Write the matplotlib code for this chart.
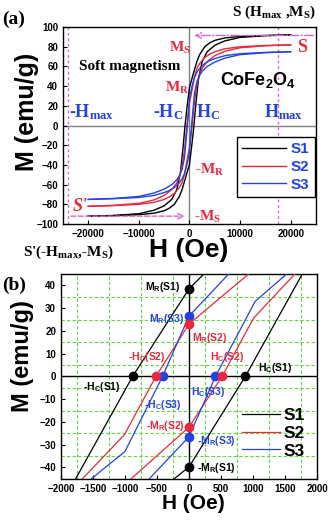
import numpy as np
import matplotlib.pyplot as plt
from matplotlib.ticker import MultipleLocator

plt.rcParams['font.family'] = 'Liberation Sans'
plt.rcParams['font.weight'] = 'bold'
plt.rcParams['mathtext.default'] = 'regular'

RED = '#e8283c'
BLUE = '#2343e0'
PINK = '#d966d6'
GREEN = '#5fd83a'
SERIF = 'Liberation Serif'

samples = ['S1', 'S2', 'S3']
colors = ['black', RED, BLUE]

# ---- (a) full loops, +20 kOe -> -20 kOe (down) and back (up)
h1_dn = [20000, 15000, 10000, 7000, 5000, 4000, 3000, 2000, 1500, 1000, 500, 0, -500, -880, -1300, -1800, -2500, -3500, -5000, -7000, -10000, -15000, -20000]
m1_dn = [92, 91.5, 90.5, 89, 86.5, 84, 80, 72, 65.5, 57, 48, 38.5, 18, 0, -24, -48, -65, -75, -81.5, -86, -89.5, -91.3, -92]
h1_up = [-20000, -15000, -10000, -7000, -5000, -4000, -3000, -2000, -1500, -1000, -500, 0, 500, 880, 1300, 1800, 2500, 3500, 5000, 7000, 10000, 15000, 20000]
m1_up = [-92, -91.5, -90.5, -89, -86.5, -84, -80, -72, -65.5, -57, -48, -39.8, -18, 0, 24, 48, 65, 75, 81.5, 86, 89.5, 91.3, 92]

h2_dn = [20000, 15000, 10000, 7000, 5000, 4000, 3000, 2000, 1500, 1000, 500, 0, -517, -1000, -1500, -2000, -2500, -3500, -5000, -7000, -10000, -15000, -20000]
m2_dn = [82, 81.3, 80, 78, 75, 72.5, 69, 63, 58.5, 50, 36, 23, 0, -25.5, -42, -52, -58, -65, -71, -75.5, -79, -81, -82]
h2_up = [-20000, -15000, -10000, -7000, -5000, -4000, -3000, -2000, -1500, -1000, -500, 0, 517, 1000, 1500, 2000, 2500, 3500, 5000, 7000, 10000, 15000, 20000]
m2_up = [-82, -81.3, -80, -78, -75, -72.5, -69, -63, -58.5, -50, -36, -22.3, 0, 25.5, 42, 52, 58, 65, 71, 75.5, 79, 81, 82]

h3_dn = [20000, 15000, 10000, 7000, 5000, 4000, 3000, 2000, 1500, 1000, 500, 0, -413, -1000, -1500, -2000, -2500, -3500, -5000, -7000, -10000, -15000, -20000]
m3_dn = [75, 74.3, 73, 71, 68, 66, 63, 58, 54.5, 49, 40, 26.5, 0, -33, -45, -51, -55, -60, -64.5, -68.5, -72, -74, -75]
h3_up = [-20000, -15000, -10000, -7000, -5000, -4000, -3000, -2000, -1500, -1000, -500, 0, 413, 1000, 1500, 2000, 2500, 3500, 5000, 7000, 10000, 15000, 20000]
m3_up = [-75, -74.3, -73, -71, -68, -66, -63, -58, -54.5, -49, -40, -26.5, 0, 33, 45, 51, 55, 60, 64.5, 68.5, 72, 74, 75]

hmax_neg, hmax_pos = -24000, 17500
ms_top, ms_bot = 91.5, -92

# ---- (b) zoom around origin
hb1_dn = [600, 232, 0, -880, -1770, -2100]
mb1_dn = [54, 45, 38.5, 0, -45, -62]
hb1_up = [-600, -232, 0, 880, 1770, 2100]
mb1_up = [-54, -45, -39.8, 0, 45, 62]

hb2_dn = [1400, 930, 0, -517, -1008, -1664, -2000]
mb2_dn = [56, 45, 23, 0, -25.6, -45, -55]
hb2_up = [-1400, -904, 0, 517, 1008, 1654, 2000]
mb2_up = [-56, -45, -22.3, 0, 25.6, 45, 55]

hb3_dn = [1000, 620, 0, -413, -1000, -1525, -2000]
mb3_dn = [57, 45, 26.5, 0, -33, -45, -56]
hb3_up = [-1000, -620, 0, 413, 1034, 1525, 2000]
mb3_up = [-57, -45, -26.5, 0, 33, 45, 56]

# remanence / coercivity points (S1, S2, S3)
mr_pos = [38.5, 23, 26.5]
mr_neg = [-39.8, -22.3, -26.5]
hc_pos = [880, 517, 413]
hc_neg = [-880, -517, -413]

fig = plt.figure(figsize=(3.33, 5.21), dpi=100)

# ================= (a)
axa = fig.add_axes([0.189, 0.570, 0.760, 0.378])
axa.axhline(0, color='#808080', lw=1, zorder=1)
axa.axvline(0, color='#808080', lw=1, zorder=1)
axa.axvline(hmax_neg, color=PINK, lw=1, ls=(0, (2, 2)), zorder=1)
axa.axvline(hmax_pos, color=PINK, lw=1, ls=(0, (2, 2)), zorder=1)
axa.annotate('', xy=(400, ms_top), xytext=(25000, ms_top),
             arrowprops=dict(arrowstyle='->', color=PINK, lw=1, ls='-.'))
axa.annotate('', xy=(-400, ms_bot), xytext=(hmax_neg, ms_bot),
             arrowprops=dict(arrowstyle='->', color=PINK, lw=1, ls='--'))

loops_a = [(h1_dn, m1_dn, h1_up, m1_up), (h2_dn, m2_dn, h2_up, m2_up), (h3_dn, m3_dn, h3_up, m3_up)]
for (hd, md, hu, mu), c, s in zip(loops_a, colors, samples):
    axa.plot(hd, md, color=c, lw=1, label=s)
    axa.plot(hu, mu, color=c, lw=1)

axa.set_xlim(-25000, 25000)
axa.set_ylim(-100, 100)
axa.set_xticks([-20000, -10000, 0, 10000, 20000])
axa.yaxis.set_major_locator(MultipleLocator(20))
axa.tick_params(direction='in', labelsize=7, length=3)
for sp in axa.spines.values():
    sp.set_linewidth(1)

leg = axa.legend(loc='lower right', bbox_to_anchor=(0.996, 0.137), fontsize=11,
                 handlelength=2.9, labelspacing=0.25, borderpad=0.35, handletextpad=0.3,
                 borderaxespad=0, fancybox=False, edgecolor='black', framealpha=1)
leg.get_frame().set_linewidth(1)
for t in leg.get_texts():
    t.set_color(BLUE)

sfont = dict(family=SERIF, fontweight='bold', ha='center', va='center')
axa.text(-1900, 79, 'M$_S$', color=RED, fontsize=11, **sfont)
axa.text(22200, 79, 'S', color=RED, fontsize=13, **sfont)
axa.text(-11750, 59.5, 'Soft magnetism', color='black', fontsize=11, **sfont)
axa.text(13500, 46, 'CoFe$_2$O$_4$', color='black', fontsize=13, ha='center', va='center')
axa.text(-2470, 38, 'M$_R$', color=RED, fontsize=11, **sfont)
axa.text(-19300, 14, '-H$_{max}$', color=BLUE, fontsize=13, **sfont)
axa.text(-4250, 14, '-H$_C$', color=BLUE, fontsize=13, **sfont)
axa.text(3650, 14, 'H$_C$', color=BLUE, fontsize=13, **sfont)
axa.text(18500, 14, 'H$_{max}$', color=BLUE, fontsize=13, **sfont)
axa.text(4050, -45, '-M$_R$', color=RED, fontsize=11, **sfont)
axa.text(3650, -93, '-M$_S$', color=RED, fontsize=11, **sfont)
axa.text(-21600, -82.7, "S'", color=RED, fontsize=13, style='italic', **sfont)

fig.text(0.006, 0.962, '(a)', family=SERIF, fontsize=14, fontweight='bold', va='center')
fig.text(0.823, 0.977, 'S (H$_{max}$ ,M$_S$)', family=SERIF, fontsize=11, fontweight='bold', ha='center', va='center')
fig.text(0.204, 0.516, "S'(-H$_{max}$,-M$_S$)", family=SERIF, fontsize=11, fontweight='bold', ha='center', va='center')
fig.text(0.568, 0.520, 'H (Oe)', fontsize=19, ha='center', va='center')
fig.text(0.081, 0.785, 'M (emu/g)', fontsize=18, rotation=90, ha='center', va='center')

# ================= (b)
axb = fig.add_axes([0.183, 0.081, 0.769, 0.393])
axb.axhline(0, color='black', lw=1, zorder=2)
axb.axvline(0, color='black', lw=1, zorder=2)

loops_b = [(hb1_dn, mb1_dn, hb1_up, mb1_up), (hb2_dn, mb2_dn, hb2_up, mb2_up), (hb3_dn, mb3_dn, hb3_up, mb3_up)]
for (hd, md, hu, mu), c, s in zip(loops_b, colors, samples):
    axb.plot(hd, md, color=c, lw=0.9, label=s, zorder=3)
    axb.plot(hu, mu, color=c, lw=0.9, zorder=3)

# dots: blue first, then red, black
for i in [2, 1, 0]:
    axb.plot([0, 0], [mr_pos[i], mr_neg[i]], 'o', color=colors[i], ms=6, zorder=5)
    axb.plot([hc_pos[i], hc_neg[i]], [0, 0], 'o', color=colors[i], ms=6, zorder=5)

axb.set_xlim(-2000, 2000)
axb.set_ylim(-45, 45)
axb.xaxis.set_major_locator(MultipleLocator(500))
axb.xaxis.set_minor_locator(MultipleLocator(250))
axb.yaxis.set_major_locator(MultipleLocator(10))
axb.yaxis.set_minor_locator(MultipleLocator(5))
axb.grid(which='minor', color=GREEN, ls=(0, (3, 2)), lw=0.8)
axb.tick_params(which='both', direction='in', labelsize=7)
axb.tick_params(which='major', length=3)
axb.tick_params(which='minor', length=0)
for sp in axb.spines.values():
    sp.set_linewidth(1)

legb = axb.legend(loc='lower left', bbox_to_anchor=(0.68, 0.065), fontsize=12.5, frameon=False,
                  handlelength=2.2, labelspacing=0.15, handletextpad=0.2, borderaxespad=0)

lf = dict(fontsize=7.5, ha='center', va='center', zorder=6)
axb.text(-405, 39.4, 'M$_R$(S1)', color='black', **lf)
axb.text(-350, 25.2, 'M$_R$(S3)', color=BLUE, **lf)
axb.text(328, 17.1, 'M$_R$(S2)', color=RED, **lf)
axb.text(-660, 8.4, '-H$_C$(S2)', color=RED, **lf)
axb.text(588, 8.6, 'H$_C$(S2)', color=RED, **lf)
axb.text(1342, 3.7, 'H$_C$(S1)', color='black', **lf)
axb.text(-1362, -4.5, '-H$_C$(S1)', color='black', **lf)
axb.text(301, -6.7, 'H$_C$(S3)', color=BLUE, **lf)
axb.text(-401, -12.5, '-H$_C$(S3)', color=BLUE, **lf)
axb.text(-374, -22, '-M$_R$(S2)', color=RED, **lf)
axb.text(432, -28.6, '-M$_R$(S3)', color=BLUE, **lf)
axb.text(432, -40.3, '-M$_R$(S1)', color='black', **lf)

fig.text(0.006, 0.453, '(b)', family=SERIF, fontsize=14, fontweight='bold', va='center')
fig.text(0.58, 0.033, 'H (Oe)', fontsize=15, ha='center', va='center')
fig.text(0.069, 0.317, 'M (emu/g)', fontsize=17, rotation=90, ha='center', va='center')

fig.savefig('out.png', dpi=100)
